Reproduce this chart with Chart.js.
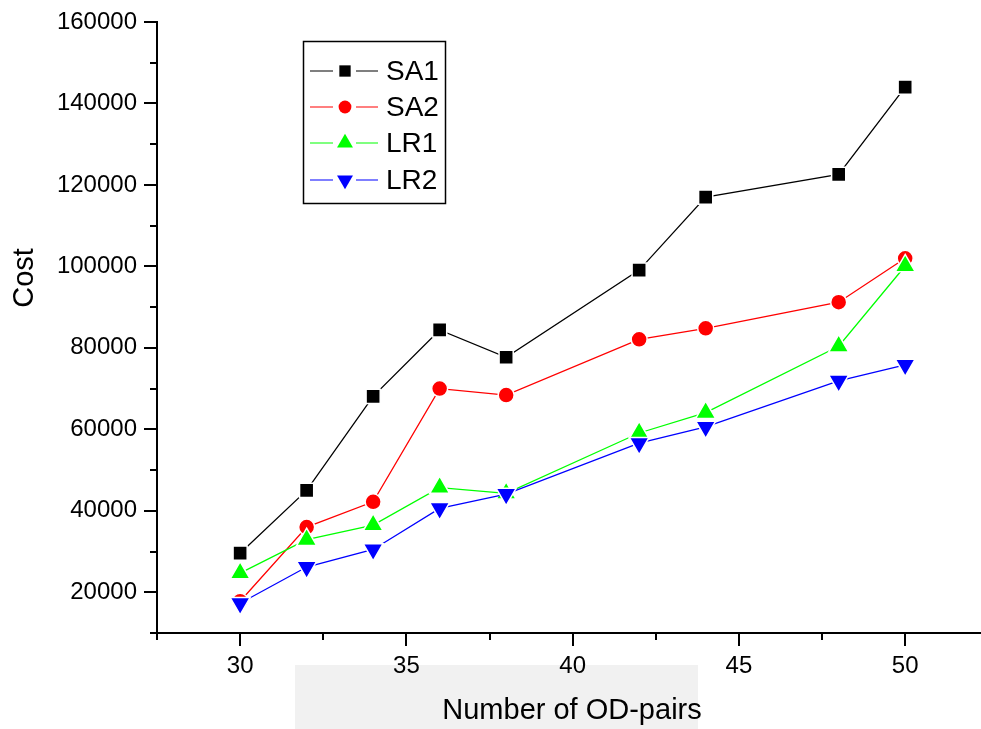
<!DOCTYPE html>
<html>
<head>
<meta charset="utf-8">
<script src="https://cdn.jsdelivr.net/npm/chart.js@4.4.1/dist/chart.umd.min.js"></script>
<style>
  html, body { margin: 0; padding: 0; background: #fff; overflow: hidden; }
  #wrap { width: 981px; height: 729px; position: relative; }
</style>
</head>
<body>
<div id="wrap"><canvas id="chart"></canvas></div>
<script>
const odPairs = [30, 32, 34, 36, 38, 42, 44, 48, 50];
const sa1 = [29600, 45000, 68100, 84400, 77700, 99100, 117000, 122600, 144000];
const sa2 = [17800, 36000, 42200, 70000, 68400, 82100, 84800, 91200, 102000];
const lr1 = [24700, 32900, 36500, 45700, 44300, 59100, 64100, 80400, 100100];
const lr2 = [17300, 26200, 30500, 40600, 44100, 56600, 60600, 71900, 75800];

const xTicks = [30, 35, 40, 45, 50];
const yTicks = [20000, 40000, 60000, 80000, 100000, 120000, 140000, 160000];

const seriesNames = ["SA1", "SA2", "LR1", "LR2"];
const seriesColors = ["#000000", "#ff0000", "#00ff00", "#0000ff"];
const seriesStyles = ["rect", "circle", "triangle", "triangle"];
const seriesRotation = [0, 0, 0, 180];
const seriesRadius = [10, 8, 11.5, 11.5];

const font = "'Liberation Sans', Arial, sans-serif";

const toPoints = (ys) => ys.map((y, i) => ({ x: odPairs[i], y: y }));

const datasets = [sa1, sa2, lr1, lr2].map((vals, i) => ({
  label: seriesNames[i],
  data: toPoints(vals),
  order: 3 - i, // later series drawn on top, like the original
  borderColor: seriesColors[i],
  backgroundColor: seriesColors[i],
  borderWidth: 1.3,
  pointStyle: seriesStyles[i],
  pointRotation: seriesRotation[i],
  pointRadius: seriesRadius[i],
  pointHoverRadius: seriesRadius[i],
  pointBorderColor: "#ffffff",
  pointBorderWidth: 1.5,
  pointBackgroundColor: seriesColors[i],
  tension: 0
}));

// tick marks, axis titles, legend box and the grey patch behind the x title
const decorations = {
  id: "decorations",
  beforeDraw(chart) {
    const ctx = chart.ctx;
    ctx.save();
    ctx.fillStyle = "#f1f1f1";
    ctx.fillRect(295, 665, 403, 64);
    ctx.restore();
  },
  afterDraw(chart) {
    const ctx = chart.ctx;
    const xs = chart.scales.x;
    const ys = chart.scales.y;
    const area = chart.chartArea;
    ctx.save();
    ctx.strokeStyle = "#000";
    ctx.lineWidth = 2;

    // x ticks: majors every 5, minors between
    for (let v = 27.5; v <= xs.max + 0.001; v += 2.5) {
      const px = Math.round(xs.getPixelForValue(v));
      const major = Math.abs(v % 5) < 0.001;
      ctx.beginPath();
      ctx.moveTo(px, area.bottom);
      ctx.lineTo(px, area.bottom + (major ? 13 : 7));
      ctx.stroke();
    }
    // y ticks: majors every 20000, minors between
    for (let v = 10000; v <= 160000; v += 10000) {
      const py = Math.round(ys.getPixelForValue(v));
      const major = v % 20000 === 0;
      ctx.beginPath();
      ctx.moveTo(area.left, py);
      ctx.lineTo(area.left - (major ? 13 : 7), py);
      ctx.stroke();
    }

    // axis titles
    ctx.fillStyle = "#000";
    ctx.font = "29px " + font;
    ctx.textAlign = "center";
    ctx.textBaseline = "middle";
    ctx.fillText("Number of OD-pairs", 572, 711);
    ctx.save();
    ctx.translate(25, 278);
    ctx.rotate(-Math.PI / 2);
    ctx.fillText("Cost", 0, 0);
    ctx.restore();

    // legend
    ctx.lineWidth = 1.5;
    ctx.strokeRect(303.5, 41.5, 142, 162);
    const rowY = [71, 107, 143, 180];
    seriesNames.forEach((name, i) => {
      const y = rowY[i];
      ctx.strokeStyle = seriesColors[i];
      ctx.lineWidth = 1.2;
      ctx.beginPath();
      ctx.moveTo(310, y); ctx.lineTo(333, y);
      ctx.moveTo(356, y); ctx.lineTo(378, y);
      ctx.stroke();
      ctx.fillStyle = seriesColors[i];
      Chart.helpers.drawPoint(ctx, {
        pointStyle: seriesStyles[i],
        rotation: seriesRotation[i],
        radius: seriesRadius[i] * 0.8,
        borderWidth: 0
      }, 345, y);
      ctx.fillStyle = "#000";
      ctx.font = "28px " + font;
      ctx.textAlign = "left";
      ctx.fillText(name, 386, y + 1);
    });
    ctx.restore();
  }
};

new Chart(document.getElementById("chart"), {
  type: "line",
  data: { datasets: datasets },
  plugins: [decorations],
  options: {
    responsive: true,
    maintainAspectRatio: false,
    animation: false,
    clip: false,
    layout: { autoPadding: false, padding: { top: 22, right: 0, left: 0, bottom: 0 } },
    plugins: {
      legend: { display: false },
      tooltip: { enabled: false }
    },
    scales: {
      x: {
        type: "linear",
        min: 27.5,
        max: 52.28,
        afterBuildTicks: (scale) => {
          scale.ticks = xTicks.map(v => ({ value: v }));
        },
        afterFit: (scale) => {
          scale.height = 96;
          scale.paddingLeft = 0;
          scale.paddingRight = 0;
        },
        grid: { display: false, drawTicks: false },
        border: { display: true, color: "#000", width: 2 },
        ticks: {
          color: "#000",
          padding: 19,
          maxRotation: 0,
          font: { size: 24, family: font }
        }
      },
      y: {
        min: 10000,
        max: 160000,
        afterBuildTicks: (scale) => {
          scale.ticks = yTicks.map(v => ({ value: v }));
        },
        afterFit: (scale) => {
          scale.width = 157;
          scale.paddingTop = 0;
          scale.paddingBottom = 0;
        },
        grid: { display: false, drawTicks: false },
        border: { display: true, color: "#000", width: 2 },
        ticks: {
          color: "#000",
          padding: 20,
          font: { size: 24, family: font },
          callback: (v) => String(v)
        }
      }
    }
  }
});
</script>
</body>
</html>
